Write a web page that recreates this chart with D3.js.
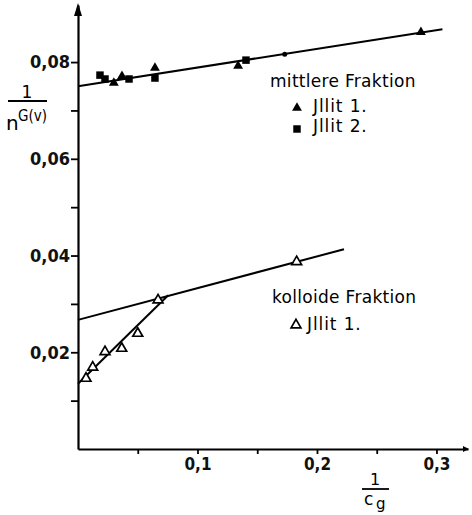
<!DOCTYPE html>
<html>
<head>
<meta charset="utf-8">
<script src="https://cdn.jsdelivr.net/npm/d3@7"></script>
<style>
  body { margin: 0; background: #fff; }
  svg { display: block; font-family: "DejaVu Sans", "Liberation Sans", sans-serif; }
</style>
</head>
<body>
<svg></svg>
<script>
// values: x = 1/c_g, y = 1/n^G(v)
const mittelIllit1 = [[0.030, 0.0757], [0.0368, 0.0771], [0.0644, 0.0788], [0.134, 0.0792], [0.287, 0.0862]]
const mittelIllit2 = [[0.0184, 0.0773], [0.0226, 0.0765], [0.0427, 0.0765], [0.0644, 0.0767], [0.1406, 0.0804]]
const mittelDot = [[0.173, 0.0816]]
const kolloidIllit1 = [[0.0067, 0.0146], [0.0123, 0.0169], [0.0226, 0.0201], [0.0366, 0.0208], [0.050, 0.0239], [0.067, 0.0308], [0.183, 0.0387]]

// fitted lines (end points)
const lineMittel = [[0, 0.0750], [0.305, 0.0868]]
const lineKolloidFlat = [[0, 0.0267], [0.2226, 0.0413]]
const lineKolloidSteep = [[0, 0.0135], [0.0755, 0.0318]]

const xTicks = [0.05, 0.1, 0.15, 0.2, 0.25, 0.3]
const xLabelled = [0.1, 0.2, 0.3]
const yTicks = [0.01, 0.02, 0.03, 0.04, 0.05, 0.06, 0.07, 0.08]
const yLabelled = [0.02, 0.04, 0.06, 0.08]

const width = 472
const height = 515
const x0 = 78
const y0 = 449
const condensed = '"DejaVu Sans Condensed", "Liberation Sans Narrow", "DejaVu Sans", sans-serif'

const locale = d3.formatLocale({ decimal: ',', thousands: '.', grouping: [3], currency: ['', ''] })

const xScale = d3.scaleLinear()
                    .domain([0, 0.3264])
                    .range([x0, 468])
const yScale = d3.scaleLinear()
                    .domain([0, 0.0918])
                    .range([y0, 5])

const xAxis = d3.axisBottom(xScale)
                    .tickValues(xTicks)
                    .tickSize(5)
                    .tickSizeOuter(0)
                    .tickFormat(d => xLabelled.some(v => Math.abs(v - d) < 1e-9) ? locale.format('.1f')(d) : '')
const yAxis = d3.axisLeft(yScale)
                    .tickValues(yTicks)
                    .tickSize(7)
                    .tickSizeOuter(0)
                    .tickFormat(d => yLabelled.some(v => Math.abs(v - d) < 1e-9) ? locale.format('.2f')(d) : '')

const svg = d3.select('svg')
        .attr('width', width)
        .attr('height', height)

const gx = svg.append('g')
        .attr('transform', 'translate(0,' + y0 + ')')
        .call(xAxis)
const gy = svg.append('g')
        .attr('transform', 'translate(' + x0 + ',0)')
        .call(yAxis)

gx.select('.domain').attr('stroke-width', 2.2)
gy.select('.domain').attr('stroke-width', 2.2)
gx.selectAll('.tick line').attr('stroke-width', 1.8)
gy.selectAll('.tick line').attr('stroke-width', 1.8)
gx.selectAll('.tick text')
        .attr('font-size', 17)
        .attr('font-family', condensed)
        .attr('font-weight', 'bold')
        .attr('y', 9)
        .attr('fill', '#111')
gy.selectAll('.tick text')
        .attr('font-size', 18)
        .attr('font-family', condensed)
        .attr('font-weight', 'bold')
        .attr('x', -8)
        .attr('fill', '#111')

// arrow heads
svg.append('path')
        .attr('d', 'M' + (x0 - 4) + ',16 L' + x0 + ',3 L' + (x0 + 4) + ',16 Z')
        .attr('fill', '#000')
svg.append('path')
        .attr('d', 'M463,' + (y0 - 3) + ' L469,' + y0 + ' L463,' + (y0 + 3) + ' Z')
        .attr('fill', '#000')

const line = d3.line()
        .x(d => xScale(d[0]))
        .y(d => yScale(d[1]))

const lines = [lineMittel, lineKolloidFlat, lineKolloidSteep]
svg.selectAll('path.fit')
    .data(lines)
    .enter()
    .append('path')
        .attr('class', 'fit')
        .attr('d', line)
        .attr('fill', 'none')
        .attr('stroke', '#000')
        .attr('stroke-width', 2)

const tri = d3.symbol().type(d3.symbolTriangle).size(42)
const sq = d3.symbol().type(d3.symbolSquare).size(56)

svg.selectAll('path.illit1')
    .data(mittelIllit1)
    .enter()
    .append('path')
        .attr('class', 'illit1')
        .attr('d', tri)
        .attr('transform', d => 'translate(' + xScale(d[0]) + ',' + yScale(d[1]) + ')')
        .attr('fill', '#000')

svg.selectAll('path.illit2')
    .data(mittelIllit2)
    .enter()
    .append('path')
        .attr('class', 'illit2')
        .attr('d', sq)
        .attr('transform', d => 'translate(' + xScale(d[0]) + ',' + yScale(d[1]) + ')')
        .attr('fill', '#000')

svg.selectAll('circle.dot')
    .data(mittelDot)
    .enter()
    .append('circle')
        .attr('class', 'dot')
        .attr('cx', d => xScale(d[0]))
        .attr('cy', d => yScale(d[1]))
        .attr('r', 2.5)
        .attr('fill', '#000')

svg.selectAll('path.kolloid')
    .data(kolloidIllit1)
    .enter()
    .append('path')
        .attr('class', 'kolloid')
        .attr('d', tri)
        .attr('transform', d => 'translate(' + xScale(d[0]) + ',' + yScale(d[1]) + ')')
        .attr('fill', '#fff')
        .attr('stroke', '#000')
        .attr('stroke-width', 1.7)

// legends
svg.append('text')
        .attr('x', 270)
        .attr('y', 87)
        .attr('font-size', 17)
        .attr('letter-spacing', 0.3)
        .text('mittlere Fraktion')
svg.append('path')
        .attr('d', tri)
        .attr('transform', 'translate(297,108)')
        .attr('fill', '#000')
svg.append('text')
        .attr('x', 313)
        .attr('y', 112)
        .attr('font-size', 17)
        .attr('letter-spacing', 0.9)
        .text('Jllit 1.')
svg.append('path')
        .attr('d', sq)
        .attr('transform', 'translate(297,129)')
        .attr('fill', '#000')
svg.append('text')
        .attr('x', 313)
        .attr('y', 132)
        .attr('font-size', 17)
        .attr('letter-spacing', 0.9)
        .text('Jllit 2.')

svg.append('text')
        .attr('x', 272)
        .attr('y', 303)
        .attr('font-size', 17)
        .attr('letter-spacing', 0.3)
        .text('kolloide Fraktion')
svg.append('path')
        .attr('d', tri)
        .attr('transform', 'translate(296,325)')
        .attr('fill', '#fff')
        .attr('stroke', '#000')
        .attr('stroke-width', 1.7)
svg.append('text')
        .attr('x', 307)
        .attr('y', 330)
        .attr('font-size', 17)
        .attr('letter-spacing', 0.9)
        .text('Jllit 1.')

// y axis title 1 / n^G(v)
svg.append('text')
        .attr('x', 27)
        .attr('y', 98)
        .attr('font-size', 17)
        .style('text-anchor', 'middle')
        .text('1')
svg.append('line')
        .attr('x1', 8).attr('x2', 47)
        .attr('y1', 101).attr('y2', 101)
        .attr('stroke', '#000')
        .attr('stroke-width', 1.8)
svg.append('text')
        .attr('x', 6)
        .attr('y', 130)
        .attr('font-size', 20)
        .text('n')
svg.append('text')
        .attr('x', 18)
        .attr('y', 121)
        .attr('font-size', 15)
        .attr('font-family', condensed)
        .text('G(v)')

// x axis title 1 / c_g
svg.append('text')
        .attr('x', 375)
        .attr('y', 485)
        .attr('font-size', 16)
        .style('text-anchor', 'middle')
        .text('1')
svg.append('line')
        .attr('x1', 362).attr('x2', 389)
        .attr('y1', 489).attr('y2', 489)
        .attr('stroke', '#000')
        .attr('stroke-width', 1.8)
svg.append('text')
        .attr('x', 364)
        .attr('y', 505)
        .attr('font-size', 17)
        .text('c')
svg.append('text')
        .attr('x', 376)
        .attr('y', 509)
        .attr('font-size', 15)
        .text('g')
</script>
</body>
</html>
